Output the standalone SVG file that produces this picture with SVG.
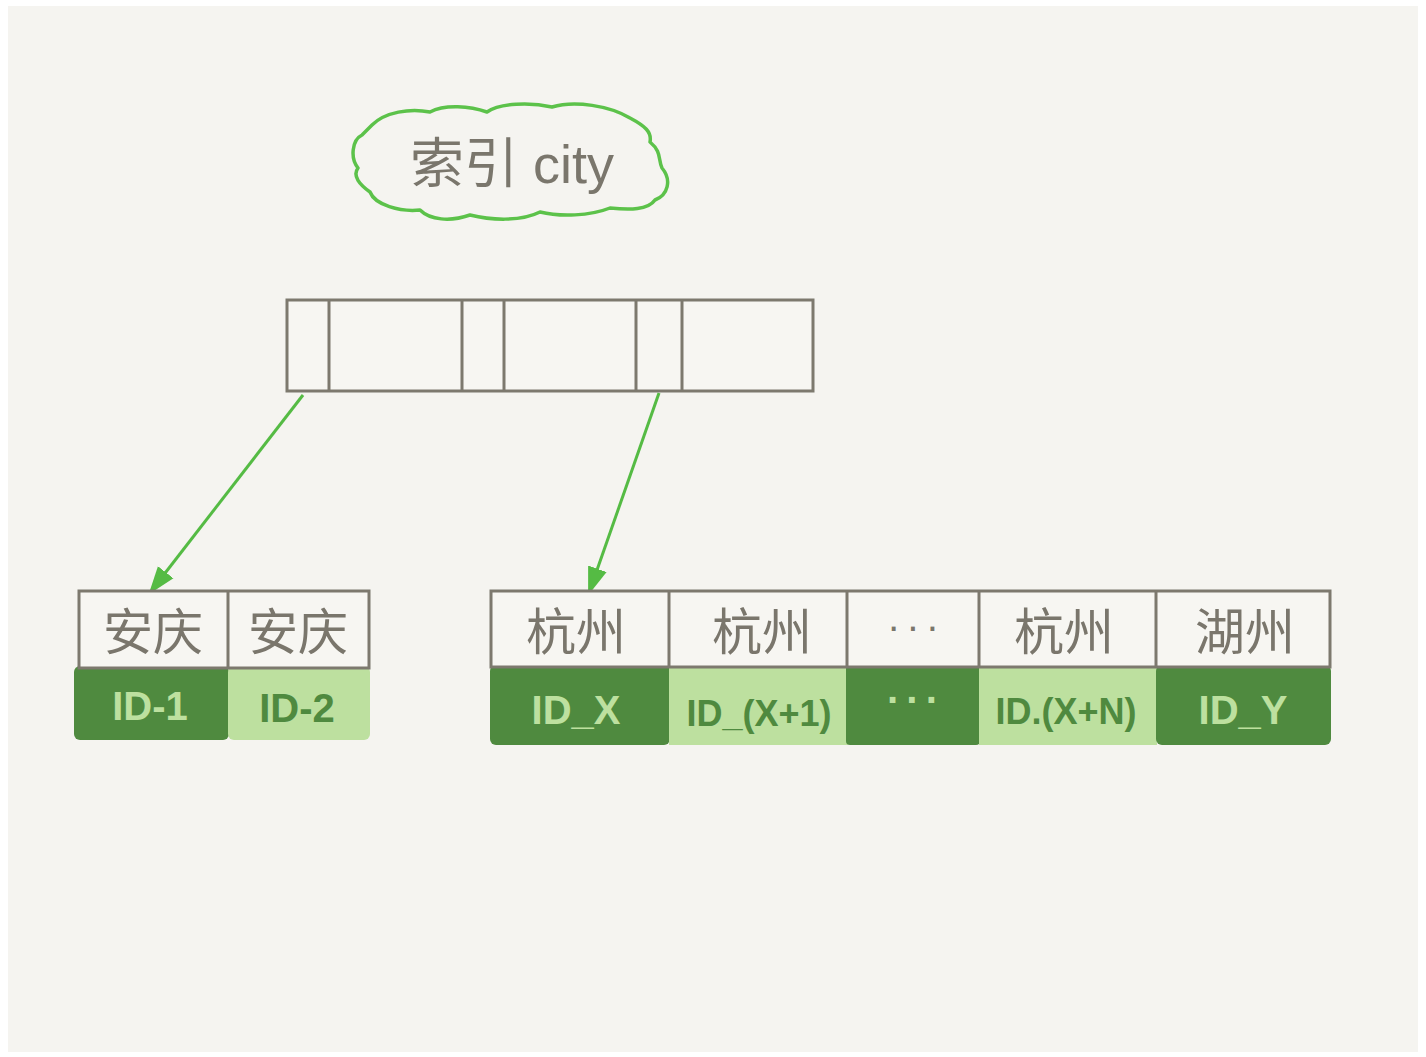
<svg xmlns="http://www.w3.org/2000/svg" width="1426" height="1057" viewBox="0 0 1426 1057">
<defs>
<style>
.frame{fill:none;stroke:#7d796e;stroke-width:3}
.cell{fill:#f7f6f2;stroke:#7d796e;stroke-width:3}
.lbl{font-family:"Liberation Sans","Noto Sans CJK SC",sans-serif;font-size:50px;fill:#7a766c;text-anchor:middle}
.id{font-family:"Liberation Sans","Noto Sans CJK SC",sans-serif;font-size:40px;font-weight:bold;text-anchor:middle}
.dots{font-family:"Liberation Sans",sans-serif;font-size:40px;letter-spacing:6px;text-anchor:middle}
.dk{fill:#4f8a3f}
.lt{fill:#bde09f}
.tdk{fill:#4f8a3f}
.tlt{fill:#bde09f}
.conn{stroke:#55bb44;stroke-width:3;fill:none}
</style>
<marker id="ah2" viewBox="0 0 10 10" refX="8" refY="5" markerWidth="28" markerHeight="28" markerUnits="userSpaceOnUse" orient="auto">
<path d="M0,1.5 L10,5 L0,8.5 z" fill="#55bb44"/>
</marker>
</defs>
<rect x="0" y="0" width="1426" height="1057" fill="#ffffff"/>
<rect x="8" y="6" width="1410" height="1046" fill="#f5f4f0"/>

<g id="title">
<path d="M372,125 C385,112 410,108 430,112 C445,104 470,106 487,112 C500,103 530,102 552,107 C575,100 610,106 630,118 C645,126 652,132 650,142 C662,152 658,160 662,168 C672,180 668,195 655,200 C648,210 630,210 610,208 C590,216 560,217 540,212 C520,222 490,220 470,215 C450,222 430,220 420,210 C400,212 375,205 370,192 C360,185 352,176 358,168 C350,158 352,140 362,135 Z" fill="none" stroke="#5cc24a" stroke-width="3.5" stroke-linejoin="round"/>
<text x="512" y="183" style="font-family:'Liberation Sans','Noto Sans CJK SC',sans-serif;font-size:54px;fill:#7a766c" text-anchor="middle">索引 city</text>
</g>

<g id="root">
<rect x="287" y="300" width="526" height="91" class="cell"/>
<line x1="329" y1="300" x2="329" y2="391" class="frame"/>
<line x1="462" y1="300" x2="462" y2="391" class="frame"/>
<line x1="504" y1="300" x2="504" y2="391" class="frame"/>
<line x1="636" y1="300" x2="636" y2="391" class="frame"/>
<line x1="682" y1="300" x2="682" y2="391" class="frame"/>
</g>

<g id="connectors">
<line x1="303" y1="395" x2="152" y2="590" class="conn" marker-end="url(#ah2)"/>
<line x1="659" y1="393" x2="590" y2="590" class="conn" marker-end="url(#ah2)"/>
</g>

<g id="leaf-anqing">
<rect x="74" y="666" width="155" height="74" rx="6" class="dk"/>
<rect x="228" y="666" width="142" height="74" rx="6" class="lt"/>
<rect x="79" y="591" width="290" height="77" class="cell"/>
<line x1="228" y1="591" x2="228" y2="668" class="frame"/>
<text x="153" y="650" class="lbl">安庆</text>
<text x="298" y="650" class="lbl">安庆</text>
<text x="150" y="720" class="id tlt">ID-1</text>
<text x="297" y="722" class="id tdk">ID-2</text>
</g>

<g id="leaf-hangzhou">
<rect x="490" y="665" width="180" height="80" rx="6" class="dk"/>
<rect x="669" y="665" width="179" height="80" class="lt"/>
<rect x="846" y="665" width="134" height="80" rx="4" class="dk"/>
<rect x="979" y="665" width="178" height="80" class="lt"/>
<rect x="1156" y="665" width="175" height="80" rx="6" class="dk"/>
<rect x="491" y="591" width="839" height="76" class="cell"/>
<line x1="669" y1="591" x2="669" y2="667" class="frame"/>
<line x1="847" y1="591" x2="847" y2="667" class="frame"/>
<line x1="979" y1="591" x2="979" y2="667" class="frame"/>
<line x1="1156" y1="591" x2="1156" y2="667" class="frame"/>
<text x="576" y="650" class="lbl">杭州</text>
<text x="762" y="650" class="lbl">杭州</text>
<text x="916" y="640" class="dots" fill="#7a766c">···</text>
<text x="1064" y="650" class="lbl">杭州</text>
<text x="1245" y="650" class="lbl">湖州</text>
<text x="576" y="724" class="id tlt">ID_X</text>
<text x="759" y="726" class="id tdk" style="font-size:36px">ID_(X+1)</text>
<text x="916" y="714" class="dots" fill="#bde09f" style="font-weight:bold">···</text>
<text x="1066" y="724" class="id tdk" style="font-size:36px">ID.(X+N)</text>
<text x="1243" y="724" class="id tlt">ID_Y</text>
</g>
</svg>
